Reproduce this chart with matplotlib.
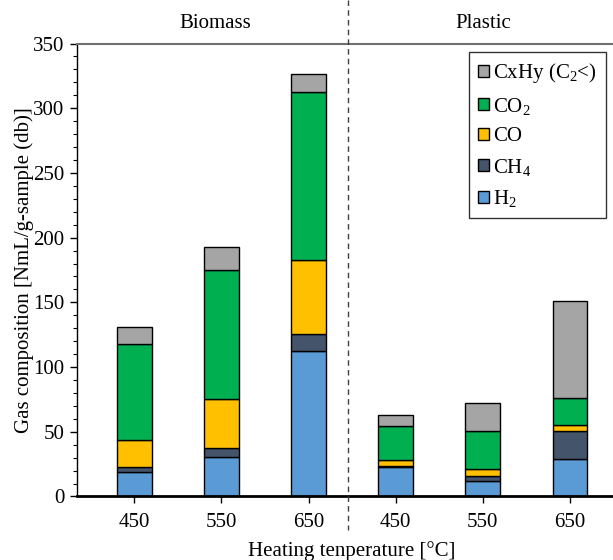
import numpy as np
import matplotlib
matplotlib.use('Agg')
import matplotlib.pyplot as plt
from matplotlib.lines import Line2D
from matplotlib.ticker import MultipleLocator

plt.rcParams['font.family'] = ['Liberation Serif', 'DejaVu Serif']
plt.rcParams['mathtext.fontset'] = 'custom'
plt.rcParams['mathtext.rm'] = 'Liberation Serif'
plt.rcParams['mathtext.it'] = 'Liberation Serif:italic'

# 加熱温度ごとのガス組成 (NmL/g-sample, db)
temps = ['450', '550', '650', '450', '550', '650']
groups = ['Biomass', 'Plastic']
h2 = [18.6, 30.6, 112.7, 23.1, 11.8, 29.0]
ch4 = [3.9, 7.0, 13.1, 0.5, 3.8, 21.5]
co = [21.4, 37.5, 57.3, 4.4, 5.7, 4.6]
co2 = [74.3, 99.8, 129.1, 26.6, 29.2, 20.9]
cxhy = [12.4, 17.6, 14.2, 8.7, 21.7, 75.2]

series = [h2, ch4, co, co2, cxhy]
labels = ['H$_2$', 'CH$_4$', 'CO', 'CO$_2$', 'CxHy (C$_2$<)']
colors = ['#5B9BD5', '#44546A', '#FFC000', '#00B050', '#A5A5A5']

fig = plt.figure(figsize=(6.13, 5.6), dpi=100)
ax = fig.add_axes([0.1256, 0.1134, 0.8744, 0.8089])

x = np.arange(len(temps))
bottom = np.zeros(len(temps))
handles = []
for vals, lab, c in zip(series, labels, colors):
    b = ax.bar(x, vals, width=0.40, bottom=bottom, color=c,
               edgecolor='black', linewidth=1.0, label=lab)
    handles.append(b)
    bottom += np.array(vals)

ax.set_xlim(-0.658, 5.494)
ax.set_ylim(0, 350)
ax.set_xticks(x)
ax.set_xticklabels(temps)
ax.yaxis.set_major_locator(MultipleLocator(50))
ax.yaxis.set_minor_locator(MultipleLocator(10))
ax.tick_params(axis='both', labelsize=15, direction='out', color='black')
ax.tick_params(axis='x', length=5, width=1, pad=7)
ax.tick_params(axis='y', which='major', length=5, width=1, pad=4)
ax.tick_params(axis='y', which='minor', length=3, width=0.8)

ax.spines['right'].set_visible(False)
ax.spines['top'].set_color('#707070')
ax.spines['top'].set_linewidth(1.5)
ax.spines['bottom'].set_linewidth(2)
ax.spines['left'].set_linewidth(1)

ax.set_ylabel('Gas composition [NmL/g-sample (db)]', fontsize=15)
ax.yaxis.set_label_coords(-0.08, 0.5)
fig.text(352 / 613, 1 - 551 / 560, 'Heating tenperature [\u00b0C]',
         fontsize=15, ha='center', va='center')

# グループ名と区切り線
ax.text(0.93, 1.045, groups[0], transform=ax.get_xaxis_transform(),
        fontsize=15, ha='center', va='center')
ax.text(4.0, 1.045, groups[1], transform=ax.get_xaxis_transform(),
        fontsize=15, ha='center', va='center')
fig.add_artist(Line2D([348 / 613, 348 / 613], [1.0, 1 - 530 / 560],
                      transform=fig.transFigure, color='#404040',
                      linewidth=1, linestyle=(0, (4, 3))))

leg = ax.legend(handles[::-1], labels[::-1], loc='upper right',
                fontsize=15, frameon=True, fancybox=False,
                edgecolor='black', handlelength=0.5, handleheight=0.5,
                handletextpad=0.2, labelspacing=0.5, borderpad=0.45,
                borderaxespad=0)
leg.get_frame().set_linewidth(1)
leg.set_bbox_to_anchor((606 / 613, 1 - 52 / 560), transform=fig.transFigure)

fig.savefig('out.png', dpi=100)
